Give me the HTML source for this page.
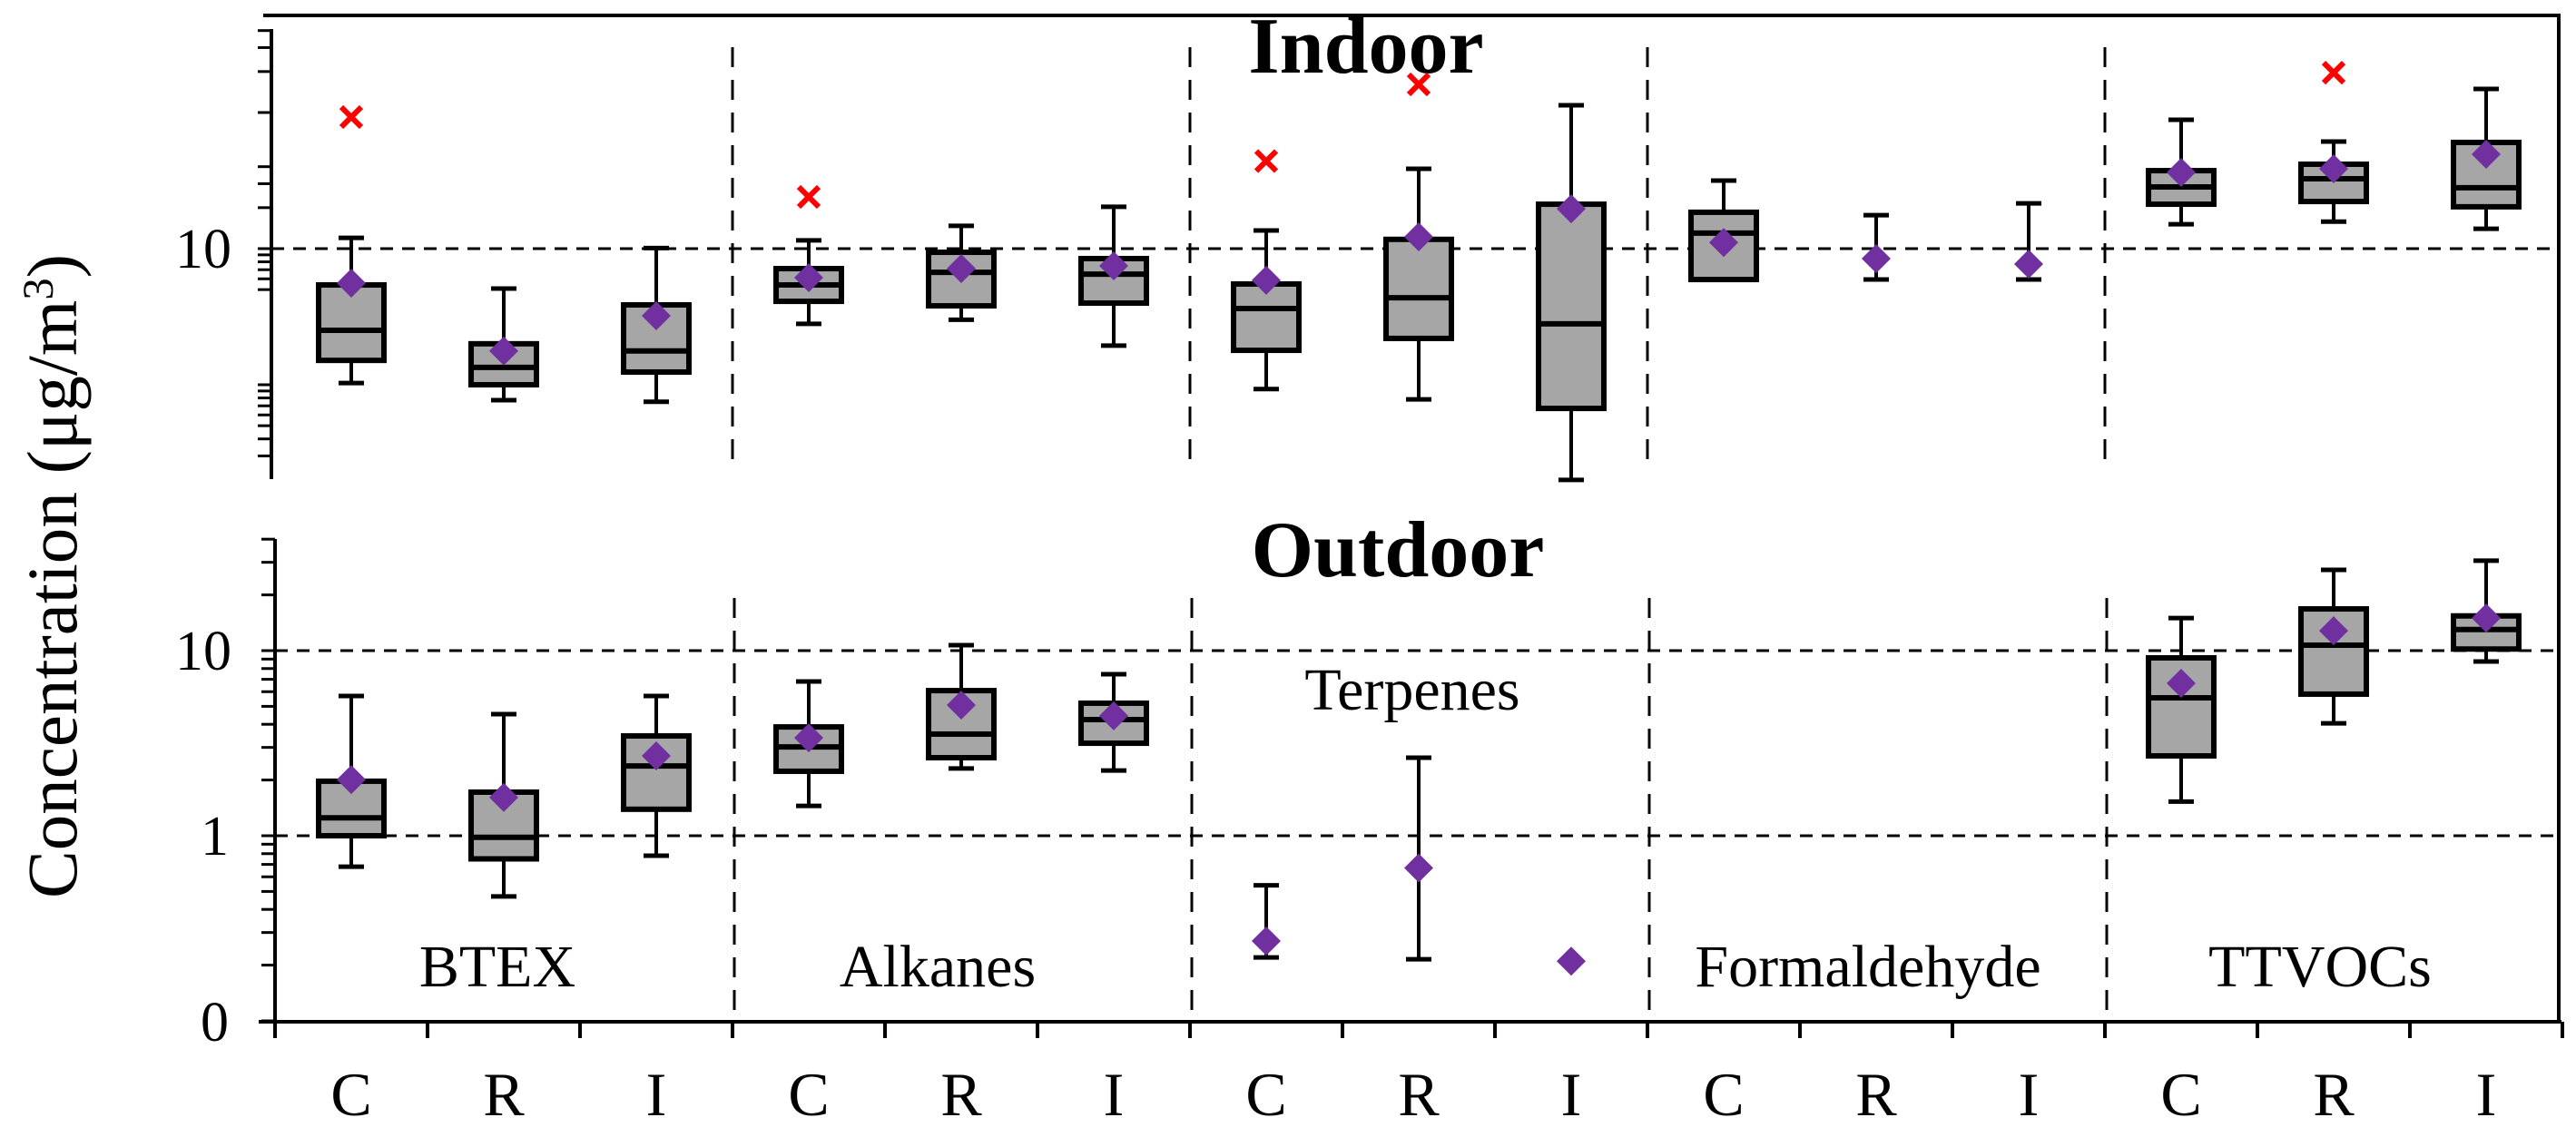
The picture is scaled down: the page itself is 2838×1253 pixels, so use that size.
<!DOCTYPE html>
<html><head><meta charset="utf-8"><style>
html,body{margin:0;padding:0;background:#fff;}
svg{display:block;}
text{font-family:"Liberation Serif","DejaVu Serif",serif;}
</style></head><body>
<svg id="chart" width="2838" height="1253" viewBox="0 0 2838 1253" xmlns="http://www.w3.org/2000/svg" font-family="Liberation Serif, serif"></svg>
<script>
const categories = ["C","R","I","C","R","I","C","R","I","C","R","I","C","R","I"];
const groups = ["BTEX","Alkanes","Terpenes","Formaldehyde","TTVOCs"];
// Indoor: [whiskerLow, q1, median, q3, whiskerHigh] (null = not drawn)
const indoorBox = [
 [1.03,1.51,2.51,5.41,12.0],[0.77,1.0,1.34,2.0,5.09],[0.75,1.24,1.77,3.86,10.1],
 [2.8,4.1,5.41,7.13,11.5],[3.0,3.8,6.7,9.4,14.7],[1.94,3.98,6.5,8.45,20.3],
 [0.93,1.79,3.63,5.5,13.6],[0.78,2.19,4.36,11.7,38.6],[0.2,0.67,2.8,21.2,113],
 [null,5.93,13,18.5,31.6],[5.93,null,null,null,17.6],[5.93,null,null,null,21.5],
 [15.1,21.2,28.4,37.4,88.5],[15.8,22.2,32.6,41.7,61.2],[14,20.3,28,60.3,149]
];
const indoorMean = [5.58,1.77,3.21,6.12,7.13,7.47,5.85,12.2,19.6,11.1,8.45,7.7,36.3,38.6,49.4];
const indoorOutlier = [92.6,null,null,24,null,null,44,161,null,null,null,null,null,196,null];
const outdoorBox = [
 [0.68,1.0,1.25,1.97,5.69],[0.47,0.75,0.98,1.72,4.54],[0.78,1.39,2.38,3.46,5.69],
 [1.45,2.23,3.02,3.87,6.81],[2.31,2.64,3.54,6.08,10.7],[2.25,3.16,4.24,5.2,7.46],
 [0.22,null,null,null,0.54],[0.215,null,null,null,2.64],null,
 null,null,null,
 [1.53,2.7,5.56,9.14,15],[4.05,5.82,10.7,16.8,27.3],[8.73,10.2,13,15.4,30.6]
];
const outdoorMean = [2.01,1.61,2.7,3.38,5.08,4.44,0.27,0.67,0.21,null,null,null,6.66,12.8,15];

const svg = document.getElementById('chart');
const NS = "http://www.w3.org/2000/svg";
function mk(tag, attrs, parent){const e=document.createElementNS(NS,tag);for(const k in attrs)e.setAttribute(k,attrs[k]);(parent||svg).appendChild(e);return e;}

const X0=303, CW=168;
const xC = i => X0 + CW*(i+0.5);
const yTop = v => 274 - 150*Math.log10(v/10);
const yBot = v => 921 - 204*Math.log10(v);

let e;
e=mk('line',{x1:290,y1:17,x2:2819,y2:17,stroke:'#000','stroke-width':4});


e=mk('line',{x1:2819,y1:15,x2:2819,y2:1127,stroke:'#000','stroke-width':4});



e=mk('line',{x1:299,y1:yTop(10),x2:2819,y2:yTop(10),stroke:'#000','stroke-width':3,'stroke-dasharray':'14 10'});


[10,1].forEach(v=>{
  e=mk('line',{x1:303,y1:yBot(v),x2:2819,y2:yBot(v),stroke:'#000','stroke-width':3,'stroke-dasharray':'14 10'});
  
  
});
for(let g=1;g<5;g++){
  const x=X0+CW*3*g;
  e=mk('line',{x1:x,y1:52,x2:x,y2:508,stroke:'#000','stroke-width':3,'stroke-dasharray':'22 14'});
  
  
  e=mk('line',{x1:x+2,y1:659,x2:x+2,y2:1120,stroke:'#000','stroke-width':3,'stroke-dasharray':'22 14'});
  
  
}

e=mk('line',{x1:299,y1:32,x2:299,y2:528,stroke:'#000','stroke-width':4});


e=mk('line',{x1:303,y1:594,x2:303,y2:1127,stroke:'#000','stroke-width':4});


e=mk('line',{x1:285,y1:1126,x2:2822,y2:1126,stroke:'#000','stroke-width':4});


for(let i=0;i<=15;i++){
  e=mk('line',{x1:X0+CW*i,y1:1126,x2:X0+CW*i,y2:1144,stroke:'#000','stroke-width':4});
  
  
}
const topTicks=[0.3,0.4,0.5,0.6,0.7,0.8,0.9,1,5,6,7,8,9,10,20,30,40,100,200,300,400];
topTicks.forEach(v=>{const y=yTop(v); if(y<30||y>528)return;
  e=mk('line',{x1:284,y1:y,x2:299,y2:y,stroke:'#000','stroke-width':3});
  
  });
const botTicks=[0.1,0.2,0.3,0.4,0.5,0.6,0.7,0.8,0.9,1,2,3,4,5,6,7,8,9,10,20,30,40];
botTicks.forEach(v=>{const y=yBot(v);
  e=mk('line',{x1:288,y1:y,x2:303,y2:y,stroke:'#000','stroke-width':3});
  
  });

function txt(s,x,y,size,anchor,name,weight){const t=mk('text',{x:x,y:y,'font-size':size,'font-family':'Liberation Serif, serif','text-anchor':anchor||'middle','font-weight':weight||'normal',fill:'#000'});t.textContent=s;return t;}
txt('10',255,yTop(10)+21,62,'end','indoor-y-label-10');
txt('10',255,yBot(10)+21,62,'end','outdoor-y-label-10');
txt('1',252,yBot(1)+21,62,'end','outdoor-y-label-1');
txt('0',252,1126+21,62,'end','outdoor-y-label-0');
categories.forEach((c,i)=>txt(c,xC(i),1229,68,'middle','x-category-label'));

txt('Indoor',1505,80,88,'middle','indoor-title','bold');
txt('Outdoor',1540,635,88,'middle','outdoor-title','bold');
const gx=[548,1033,1556,2058,2556], gy=[1087,1087,782,1087,1087];
groups.forEach((g,i)=>txt(g,gx[i],gy[i],66,'middle','group-label-'+g.toLowerCase()));
const yl=mk('text',{x:0,y:0,'font-size':78,'font-family':'Liberation Serif, serif','text-anchor':'middle',transform:'translate(84,635) rotate(-90)',textLength:710,lengthAdjust:'spacingAndGlyphs'});


yl.innerHTML='Concentration  (μg/m<tspan baseline-shift="super" font-size="48">3</tspan>)';

function drawBox(b,i,ys,panel){
  if(!b)return;
  const x=xC(i), hw=36, cw=14;
  const [lo,q1,md,q3,hi]=b;
  const top = q3!=null?q3:null, bot=q1!=null?q1:null;
  if(hi!=null){
    const from = top!=null?ys(top):(lo!=null?ys(lo):ys(hi));
    e=mk('line',{x1:x,y1:ys(hi),x2:x,y2:from,stroke:'#000','stroke-width':4});
    
    
    e=mk('line',{x1:x-cw,y1:ys(hi),x2:x+cw,y2:ys(hi),stroke:'#000','stroke-width':5});
    
    
  }
  if(lo!=null){
    const from = bot!=null?ys(bot):ys(lo);
    e=mk('line',{x1:x,y1:ys(lo),x2:x,y2:from,stroke:'#000','stroke-width':4});
    
    
    e=mk('line',{x1:x-cw,y1:ys(lo),x2:x+cw,y2:ys(lo),stroke:'#000','stroke-width':5});
    
    
  }
  if(top!=null&&bot!=null){
    e=mk('rect',{x:x-hw,y:ys(top),width:2*hw,height:ys(bot)-ys(top),fill:'#a6a6a6',stroke:'#000','stroke-width':6});
    
    
    e=mk('line',{x1:x-hw,y1:ys(md),x2:x+hw,y2:ys(md),stroke:'#000','stroke-width':6});
    
    
  }
}
function drawMean(v,i,ys,panel){
  if(v==null)return;const x=xC(i),y=ys(v),r=16;
  e=mk('polygon',{points:`${x},${y-r} ${x+r},${y} ${x},${y+r} ${x-r},${y}`,fill:'#7030a0'});
  
  
}
indoorBox.forEach((b,i)=>drawBox(b,i,yTop,'indoor'));
outdoorBox.forEach((b,i)=>drawBox(b,i,yBot,'outdoor'));
indoorMean.forEach((v,i)=>drawMean(v,i,yTop,'indoor'));
outdoorMean.forEach((v,i)=>drawMean(v,i,yBot,'outdoor'));
indoorOutlier.forEach((v,i)=>{ if(v==null)return; const x=xC(i),y=yTop(v),s=11;
  const g=mk('g',{stroke:'#ff0000','stroke-width':6});
  
  
  mk('line',{x1:x-s,y1:y-s,x2:x+s,y2:y+s},g);
  mk('line',{x1:x-s,y1:y+s,x2:x+s,y2:y-s},g);
});
</script>
</body></html>
